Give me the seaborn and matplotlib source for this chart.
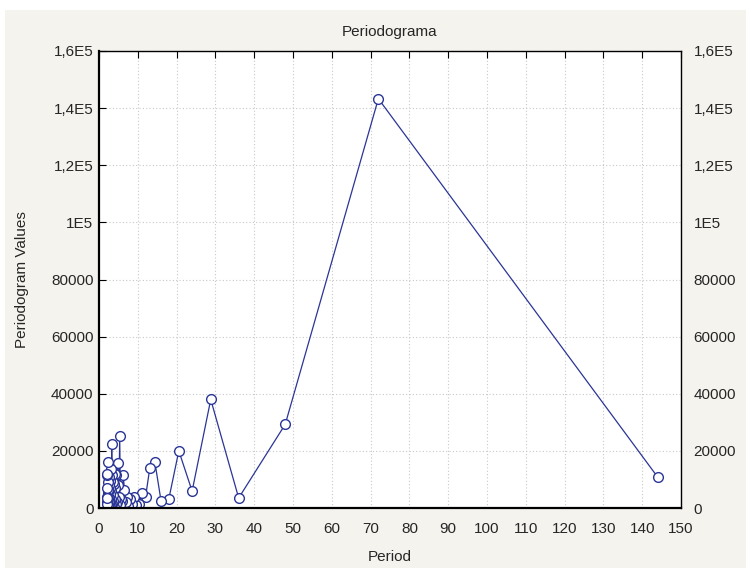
import numpy as np
import pandas as pd
import seaborn as sns
import matplotlib.pyplot as plt
from matplotlib.patches import Rectangle

# Periodogram of a 144-sample series: period = 144 / k, k = 1..72
harmonic = list(range(1, 73))
period = [144.0 / k for k in harmonic]
pgram_values = [
    10800, 143300, 29300, 3500, 38000, 5900, 20000, 3200, 2400, 16100,
    14000, 3850, 5250, 1300, 1000, 3800, 1500, 3150, 800, 4000,
    2000, 6300, 11500, 2500, 3000, 1000, 25200, 4000, 8000, 15900,
    2000, 11500, 1500, 7000, 3000, 12000, 500, 8500, 2500, 4500,
    9000, 1500, 11500, 22400, 3000, 6000, 13500, 1000, 5000, 9500,
    2000, 7000, 500, 11000, 3500, 1500, 8000, 2500, 5500, 16200,
    1000, 6300, 3000, 9000, 500, 4000, 11500, 2000, 7000, 1500,
    3500, 12000,
]
y_ticks = [0, 20000, 40000, 60000, 80000, 100000, 120000, 140000, 160000]
y_labels = ["0", "20000", "40000", "60000", "80000", "1E5", "1,2E5", "1,4E5", "1,6E5"]
x_ticks = list(range(0, 151, 10))

df = pd.DataFrame({"Period": period, "Periodogram Values": pgram_values})

sns.set_style("white")
plt.rcParams["font.family"] = ["Liberation Sans", "DejaVu Sans"]
fs = 11

fig = plt.figure(figsize=(7.46, 5.68), dpi=100, facecolor="white")
fig.patches.append(Rectangle((5 / 746, 0), 741 / 746, 1 - 10 / 568,
                             transform=fig.transFigure, facecolor="#f5f3ee",
                             edgecolor="none", zorder=-10))
ax = fig.add_axes([99 / 746, 1 - 508 / 568, 582 / 746, 457 / 568])
ax.set_facecolor("white")

sns.lineplot(data=df, x="Period", y="Periodogram Values", ax=ax, sort=False,
             color="#2a3596", linewidth=0.9, marker="o", markersize=7,
             markerfacecolor="white", markeredgecolor="#2a3596",
             markeredgewidth=1.0)

ax.set_xlim(0, 150)
ax.set_ylim(0, 160000)
ax.set_xticks(x_ticks)
ax.set_yticks(y_ticks)
ax.set_yticklabels(y_labels)
ax.grid(True, color="#c8c8c8", linestyle=(0, (1, 2)), linewidth=0.8)
ax.tick_params(direction="in", length=5, color="black", top=True, right=True,
               labelsize=fs)
ax.tick_params(axis="x", pad=10)
ax.tick_params(axis="y", pad=4)
for s in ax.spines.values():
    s.set_color("black")
    s.set_linewidth(1.0)
ax.spines["bottom"].set_linewidth(1.6)
ax.spines["left"].set_linewidth(1.6)

# right-hand labels sit a bit further from the frame
ax2 = ax.twinx()
ax2.set_ylim(ax.get_ylim())
ax2.set_yticks(y_ticks)
ax2.set_yticklabels(y_labels)
ax2.tick_params(axis="y", length=0, pad=9, labelsize=fs)
for s in ax2.spines.values():
    s.set_visible(False)

ax.set_title("Periodograma", fontsize=fs, pad=11)
ax.set_xlabel("Period", fontsize=fs)
ax.set_ylabel("Periodogram Values", fontsize=fs)
ax.xaxis.set_label_coords(0.5, -0.092)
ax.yaxis.set_label_coords(-0.12, 0.5)

fig.savefig("out.png", dpi=100, facecolor=fig.get_facecolor())
